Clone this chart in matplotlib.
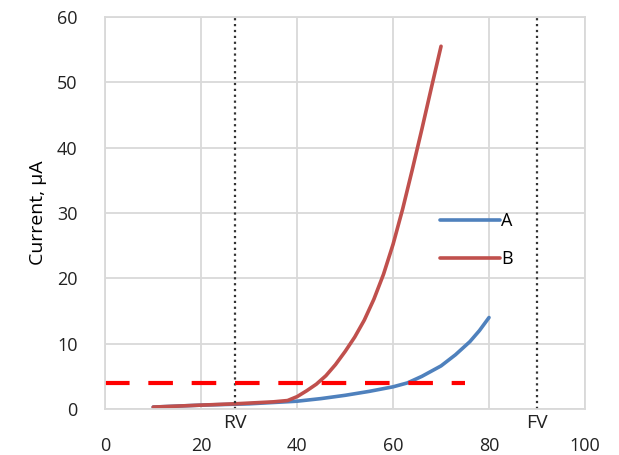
import matplotlib.pyplot as plt
import numpy as np

# Data
x_a = [10, 20, 30, 40, 45, 50, 55, 60, 63, 66, 70, 73, 76, 78, 80]
cur_a = [0.3, 0.6, 0.8, 1.2, 1.6, 2.1, 2.7, 3.4, 4.0, 5.0, 6.6, 8.3, 10.3, 12.0, 14.0]

x_b = [10, 20, 27, 35, 38, 40, 42, 44, 46, 48, 50, 52, 54, 56, 58, 60, 62, 64, 66, 68, 70]
cur_b = [0.3, 0.6, 0.8, 1.1, 1.3, 1.9, 2.8, 3.8, 5.1, 6.8, 8.8, 11.0, 13.6, 16.8, 20.6,
         25.2, 30.6, 36.6, 42.8, 49.2, 55.5]

rv = 27
fv = 90
threshold = 4
threshold_span = [0, 75]

plt.rcParams['font.family'] = ['Open Sans', 'DejaVu Sans']

fig = plt.figure(figsize=(6.19, 4.55), dpi=100)
ax = fig.add_axes([0.170, 0.101, 0.775, 0.862])

ax.plot(x_a, cur_a, color='#4f81bd', lw=2.6, label='A', solid_capstyle='round')
ax.plot(x_b, cur_b, color='#c0504d', lw=2.6, label='B', solid_capstyle='round')

ax.axvline(rv, color='#333333', ls=':', lw=1.6)
ax.axvline(fv, color='#333333', ls=':', lw=1.6)
ax.plot(threshold_span, [threshold, threshold], color='red', lw=3, dashes=(5.9, 4.5))

ax.set_xlim(0, 100)
ax.set_ylim(0, 60)
ax.set_xticks(np.arange(0, 101, 20))
ax.set_yticks(np.arange(0, 61, 10))
ax.grid(True, color='#d9d9d9', lw=1.3)
ax.set_axisbelow(True)
ax.tick_params(length=0, labelsize=13, colors='#222222')
ax.tick_params(axis='x', pad=20)
ax.tick_params(axis='y', pad=20)
for s in ax.spines.values():
    s.set_color('#d9d9d9')
    s.set_linewidth(1.3)

ax.set_ylabel('Current, μA', fontsize=14, labelpad=7)

# RV / FV labels just under the axis
ax.text(rv, -0.8, 'RV', ha='center', va='top', fontsize=14, color='#222222')
ax.text(fv, -0.8, 'FV', ha='center', va='top', fontsize=14, color='#222222')

ax.legend(frameon=False, loc='center left', bbox_to_anchor=(0.665, 0.43),
          handlelength=3.3, handletextpad=0.05, labelspacing=1.1, fontsize=13)

fig.savefig('out.png', dpi=100)
